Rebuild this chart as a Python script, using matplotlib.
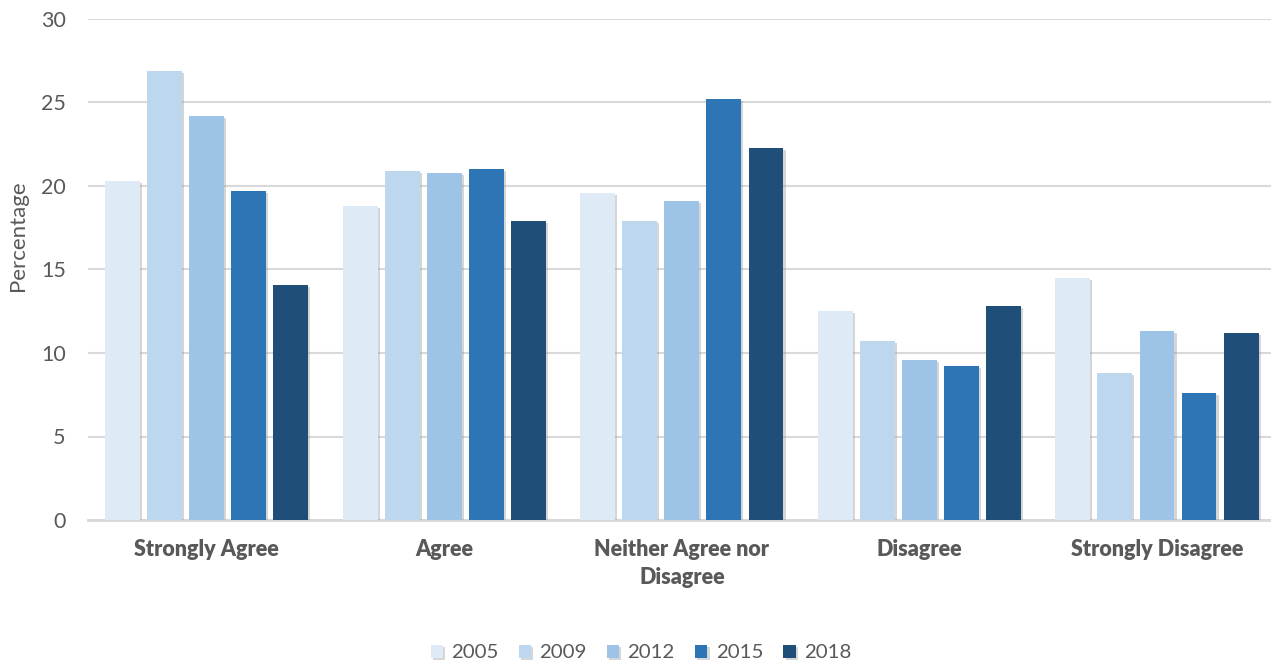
import matplotlib
matplotlib.use("Agg")
import matplotlib.pyplot as plt
import matplotlib.patheffects as pe
import numpy as np

categories = ["Strongly Agree", "Agree", "Neither Agree nor\nDisagree", "Disagree", "Strongly Disagree"]
series_names = ["2005", "2009", "2012", "2015", "2018"]
v2005 = [20.3, 18.8, 19.6, 12.5, 14.5]
v2009 = [26.9, 20.9, 17.9, 10.7, 8.8]
v2012 = [24.2, 20.8, 19.1, 9.6, 11.3]
v2015 = [19.7, 21.0, 25.2, 9.2, 7.6]
v2018 = [14.1, 17.9, 22.3, 12.8, 11.2]
yticks = [0, 5, 10, 15, 20, 25, 30]

values = [v2005, v2009, v2012, v2015, v2018]
colors = ["#DEEBF7", "#BDD7EE", "#9DC3E6", "#2E75B6", "#1F4E79"]

plt.rcParams['font.family'] = ['Lato', 'DejaVu Sans']
txt = "#595959"

fig = plt.figure(figsize=(12.71, 6.67), dpi=100)
ax = fig.add_axes([88/1271, (667-520)/667, 1 - 88/1271, (520-19)/667])

x = np.arange(len(categories))
width = 0.147
step = 0.177
shadow = [pe.SimplePatchShadow(offset=(1.5, -1.5), shadow_rgbFace='#8c8c8c', alpha=0.35), pe.Normal()]
for i, (name, vals, c) in enumerate(zip(series_names, values, colors)):
    bars = ax.bar(x + (i - 2) * step, vals, width, color=c, label=name, zorder=3)
    for b in bars:
        b.set_path_effects(shadow)

ax.set_xlim(-0.5, (1271 - 207) / 237.5)
ax.set_ylim(0, 30)
ax.set_yticks(yticks)
ax.yaxis.grid(True, color="#D9D9D9", linewidth=1.5, zorder=0)
ax.set_axisbelow(True)
for s in ["top", "right", "left"]:
    ax.spines[s].set_visible(False)
ax.spines["bottom"].set_color("#D9D9D9")
ax.spines["bottom"].set_linewidth(2)
ax.tick_params(axis="y", length=0, pad=16, labelsize=15.5, labelcolor=txt)
ax.tick_params(axis="x", length=0, pad=14, labelsize=15.5, labelcolor=txt)
ax.set_xticks(x)
ax.set_xticklabels(categories, fontweight="heavy", linespacing=1.4)

fig.text(18/1271, 1 - 236/667, "Percentage", rotation=90, ha="center", va="center",
         fontsize=16, color=txt)

leg = fig.legend(loc="center", bbox_to_anchor=(641/1271, 1 - 653/667), ncol=5, frameon=False,
                 fontsize=14.7, handlelength=0.6, handleheight=0.6, handletextpad=0.4,
                 columnspacing=1.0, labelcolor=txt)

fig.savefig("out.png", dpi=100)
